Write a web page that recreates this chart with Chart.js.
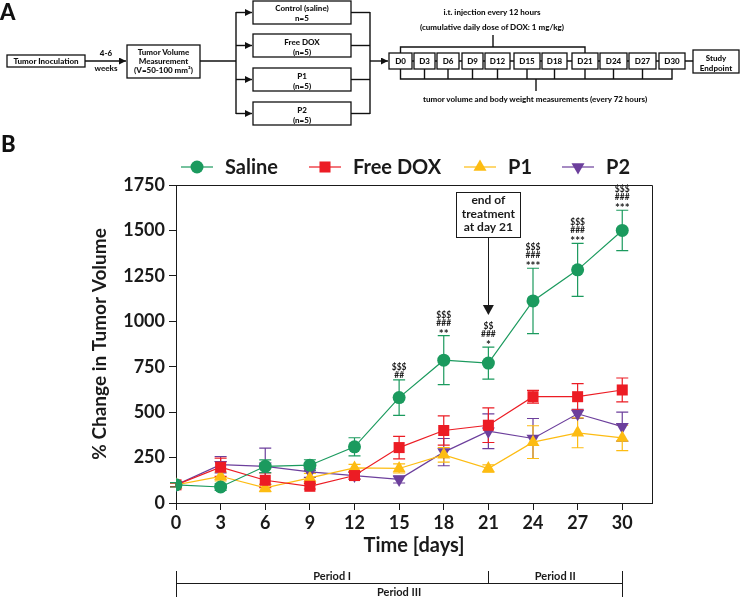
<!DOCTYPE html>
<html>
<head>
<meta charset="utf-8">
<script src="https://cdn.jsdelivr.net/npm/chart.js@4.4.1/dist/chart.umd.min.js"></script>
<style>
  html, body { margin: 0; padding: 0; background: #fff; }
  #wrap { position: relative; width: 740px; height: 597px; overflow: hidden; }
  #chart, #scheme { position: absolute; left: 0; top: 0; }
  #scheme { pointer-events: none; }
  #scheme text { font-family: Lato, "Open Sans", sans-serif; font-weight: 900; fill: #111; }
</style>
</head>
<body>
<div id="wrap">
  <canvas id="chart" width="740" height="597"></canvas>
  <svg id="scheme" width="740" height="597" viewBox="0 0 740 597">
    <defs>
      <marker id="arr" viewBox="0 0 6 6" refX="6" refY="3" markerWidth="5" markerHeight="5" orient="auto">
        <path d="M0,0 L6,3 L0,6 z" fill="#111"/>
      </marker>
    </defs>
    <g stroke="#111" stroke-width="1.4" fill="none">
      <!-- inoculation -> measurement -->
      <line x1="85" y1="61" x2="126" y2="61" marker-end="url(#arr)"/>
      <line x1="200" y1="61" x2="236" y2="61"/>
      <line x1="236" y1="12" x2="236" y2="114"/>
      <line x1="236" y1="12.5" x2="252" y2="12.5" marker-end="url(#arr)"/>
      <line x1="236" y1="45.5" x2="252" y2="45.5" marker-end="url(#arr)"/>
      <line x1="236" y1="79.5" x2="252" y2="79.5" marker-end="url(#arr)"/>
      <line x1="236" y1="113.5" x2="252" y2="113.5" marker-end="url(#arr)"/>
      <line x1="351" y1="12.5" x2="370" y2="12.5"/>
      <line x1="351" y1="45.5" x2="370" y2="45.5"/>
      <line x1="351" y1="79.5" x2="370" y2="79.5"/>
      <line x1="351" y1="113.5" x2="370" y2="113.5"/>
      <line x1="370" y1="12" x2="370" y2="114"/>
      <line x1="370" y1="61" x2="388" y2="61" marker-end="url(#arr)"/>
      <!-- day chain -->
      <line x1="412" y1="61" x2="693" y2="61"/>
      <!-- injection bracket -->
      <polyline points="400.5,53 400.5,47 585,47 585,53"/>
      <line x1="493" y1="35" x2="493" y2="47"/>
      <!-- measurement bracket -->
      <polyline points="400.5,69 400.5,79 672,79 672,69"/>
      <line x1="424.5" y1="69" x2="424.5" y2="79"/>
      <line x1="448" y1="69" x2="448" y2="79"/>
      <line x1="472.5" y1="69" x2="472.5" y2="79"/>
      <line x1="497.5" y1="69" x2="497.5" y2="79"/>
      <line x1="527" y1="69" x2="527" y2="79"/>
      <line x1="554.5" y1="69" x2="554.5" y2="79"/>
      <line x1="585" y1="69" x2="585" y2="79"/>
      <line x1="613.5" y1="69" x2="613.5" y2="79"/>
      <line x1="642.5" y1="69" x2="642.5" y2="79"/>
      <line x1="536" y1="79" x2="536" y2="91"/>
    </g>
    <g stroke="#111" stroke-width="1.3" fill="#fff">
      <rect x="7" y="55" width="78" height="12"/>
      <rect x="127" y="45" width="73" height="33"/>
      <rect x="253" y="1" width="98" height="23"/>
      <rect x="253" y="34" width="98" height="23"/>
      <rect x="253" y="68" width="98" height="23"/>
      <rect x="253" y="102" width="98" height="23"/>
      <rect x="389" y="53" width="23" height="16"/>
      <rect x="414" y="53" width="21" height="16"/>
      <rect x="437" y="53" width="22" height="16"/>
      <rect x="462" y="53" width="21" height="16"/>
      <rect x="485" y="53" width="25" height="16"/>
      <rect x="514" y="53" width="26" height="16"/>
      <rect x="542" y="53" width="25" height="16"/>
      <rect x="572" y="53" width="26" height="16"/>
      <rect x="600" y="53" width="27" height="16"/>
      <rect x="629" y="53" width="27" height="16"/>
      <rect x="659" y="53" width="26" height="16"/>
      <rect x="693" y="50" width="46" height="23"/>
    </g>
    <g font-size="8" text-anchor="middle">
      <text x="46" y="64">Tumor Inoculation</text>
      <text x="106" y="56">4-6</text>
      <text x="106" y="71">weeks</text>
      <text x="163.5" y="55">Tumor Volume</text>
      <text x="163.5" y="64">Measurement</text>
      <text x="163.5" y="73">(V=50-100 mm³)</text>
      <text x="302" y="11">Control (saline)</text>
      <text x="302" y="20.5">n=5</text>
      <text x="302" y="45">Free DOX</text>
      <text x="302" y="54.5">(n=5)</text>
      <text x="302" y="79">P1</text>
      <text x="302" y="88.5">(n=5)</text>
      <text x="302" y="113">P2</text>
      <text x="302" y="122.5">(n=5)</text>
      <text x="400.5" y="64">D0</text>
      <text x="424.5" y="64">D3</text>
      <text x="448" y="64">D6</text>
      <text x="472.5" y="64">D9</text>
      <text x="497.5" y="64">D12</text>
      <text x="527" y="64">D15</text>
      <text x="554.5" y="64">D18</text>
      <text x="585" y="64">D21</text>
      <text x="613.5" y="64">D24</text>
      <text x="642.5" y="64">D27</text>
      <text x="672" y="64">D30</text>
      <text x="716" y="61">Study</text>
      <text x="716" y="70.5">Endpoint</text>
      <text x="492" y="14.5">i.t. injection every 12 hours</text>
      <text x="492" y="29.5">(cumulative daily dose of DOX: 1 mg/kg)</text>
      <text x="535" y="102">tumor volume and body weight measurements (every 72 hours)</text>
    </g>
    <text x="0" y="20" font-size="22">A</text>
    <text x="1" y="152" font-size="22">B</text>
  </svg>
</div>
<script>
// data
const days = [0, 3, 6, 9, 12, 15, 18, 21, 24, 27, 30];
const salineMean = [100, 88, 202, 208, 309, 580, 786, 770, 1112, 1283, 1500];
const salineErr  = [12, 18, 35, 30, 50, 98, 135, 88, 180, 146, 111];
const doxMean = [100, 197, 125, 92, 151, 305, 399, 428, 585, 585, 622];
const doxErr  = [10, 50, 40, 15, 20, 62, 80, 95, 35, 72, 66];
const p1Mean = [100, 147, 83, 138, 193, 190, 265, 190, 335, 386, 358];
const p1Err  = [10, 25, 20, 25, 20, 25, 40, 20, 90, 82, 70];
const p2Mean = [100, 211, 202, 171, 151, 130, 280, 395, 355, 491, 420];
const p2Err  = [10, 45, 100, 30, 20, 20, 75, 96, 110, 25, 80];

const dayTicks = [0, 3, 6, 9, 12, 15, 18, 21, 24, 27, 30];
const volumeTicks = [0, 250, 500, 750, 1000, 1250, 1500, 1750];

// significance marks over saline
const sigDays = [15, 18, 21, 24, 27, 30];
const sigMarks = [
  ["$$$", "##"],
  ["$$$", "###", "**"],
  ["$$", "###", "*"],
  ["$$$", "###", "***"],
  ["$$$", "###", "***"],
  ["$$$", "###", "***"]
];

const treatmentEnd = 21;
const arrowTipValue = 1035;
const periods = [
  { label: "Period I", from: 0, to: 21, row: 0 },
  { label: "Period II", from: 21, to: 30, row: 0 },
  { label: "Period III", from: 0, to: 30, row: 1 }
];

const FONT = 'Lato, "Open Sans", sans-serif';
const INK = "#1a1a1a";

function series(label, color, style, rotation, radius, means, errs) {
  return {
    label: label,
    data: days.map((d, i) => ({ x: d, y: means[i] })),
    errors: errs,
    borderColor: color,
    backgroundColor: color,
    borderWidth: 1.2,
    pointStyle: style,
    pointRotation: rotation,
    pointRadius: radius,
    pointHoverRadius: radius,
    pointBorderWidth: 0,
    tension: 0
  };
}

const datasets = [
  series("Saline", "#1b9a5e", "circle", 0, 6.5, salineMean, salineErr),
  series("Free DOX", "#ec1c24", "rect", 0, 7.8, doxMean, doxErr),
  series("P1", "#fdbc12", "triangle", 0, 7.5, p1Mean, p1Err),
  series("P2", "#6c3f9c", "triangle", 180, 7.5, p2Mean, p2Err)
];

// error bars under the markers
const errorBars = {
  id: "errorBars",
  beforeDatasetsDraw(chart) {
    const { ctx, scales: { x, y } } = chart;
    ctx.save();
    for (let k = chart.data.datasets.length - 1; k >= 0; k--) {
      const ds = chart.data.datasets[k];
      ctx.strokeStyle = ds.borderColor;
      ctx.lineWidth = 1.2;
      ds.data.forEach((p, i) => {
        const e = ds.errors[i];
        const px = x.getPixelForValue(p.x);
        const top = y.getPixelForValue(p.y + e);
        const bot = y.getPixelForValue(p.y - e);
        ctx.beginPath();
        ctx.moveTo(px, top); ctx.lineTo(px, bot);
        ctx.moveTo(px - 6, top); ctx.lineTo(px + 6, top);
        ctx.moveTo(px - 6, bot); ctx.lineTo(px + 6, bot);
        ctx.stroke();
      });
    }
    ctx.restore();
  }
};

// $$$ / ### / *** over the saline bars
const sigLabels = {
  id: "sigLabels",
  afterDatasetsDraw(chart) {
    const { ctx, scales: { x, y } } = chart;
    ctx.save();
    ctx.fillStyle = INK;
    ctx.textAlign = "center";
    ctx.textBaseline = "alphabetic";
    sigDays.forEach((d, j) => {
      const i = days.indexOf(d);
      const px = x.getPixelForValue(d);
      const cap = y.getPixelForValue(salineMean[i] + salineErr[i]);
      const lines = sigMarks[j];
      lines.forEach((s, n) => {
        const fromBottom = lines.length - 1 - n;
        const isStar = s.indexOf("*") >= 0;
        ctx.font = (isStar ? "bold 11.5px " : "bold 8.5px ") + FONT;
        ctx.fillText(s, px, cap + (isStar ? 2 : -2) - fromBottom * 8);
      });
    });
    ctx.restore();
  }
};

// box around plot, legend, treatment note and period bars
const extras = {
  id: "extras",
  afterDraw(chart) {
    const { ctx, chartArea: a, scales: { x, y } } = chart;
    ctx.save();

    // top + right frame
    ctx.strokeStyle = INK;
    ctx.lineWidth = 1;
    ctx.beginPath();
    ctx.moveTo(a.left, a.top + 0.5); ctx.lineTo(a.right + 0.5, a.top + 0.5);
    ctx.lineTo(a.right + 0.5, a.bottom);
    ctx.stroke();

    // legend
    const legendX = [197, 325, 480, 578];
    const legendY = 167;
    chart.data.datasets.forEach((ds, k) => {
      const cx = legendX[k];
      ctx.strokeStyle = ds.borderColor;
      ctx.fillStyle = ds.backgroundColor;
      ctx.lineWidth = 1.2;
      ctx.beginPath();
      ctx.moveTo(cx - 16, legendY); ctx.lineTo(cx + 16, legendY);
      ctx.stroke();
      Chart.helpers.drawPoint(ctx, {
        pointStyle: ds.pointStyle, rotation: ds.pointRotation,
        radius: ds.pointRadius, borderWidth: 0
      }, cx, legendY);
      ctx.fillStyle = INK;
      ctx.font = "bold 20px " + FONT;
      ctx.textAlign = "left";
      ctx.textBaseline = "middle";
      ctx.fillText(ds.label, cx + 28, legendY + 1);
    });

    // end of treatment note
    const tx = x.getPixelForValue(treatmentEnd);
    const boxTop = a.top + 7, boxW = 64, boxH = 45;
    ctx.strokeStyle = INK;
    ctx.lineWidth = 1;
    ctx.fillStyle = "#fff";
    ctx.fillRect(tx - boxW / 2, boxTop, boxW, boxH);
    ctx.strokeRect(Math.round(tx - boxW / 2) + 0.5, boxTop + 0.5, boxW, boxH);
    ctx.fillStyle = INK;
    ctx.font = "bold 12px " + FONT;
    ctx.textAlign = "center";
    ctx.textBaseline = "middle";
    ["end of", "treatment", "at day 21"].forEach((s, n) => {
      ctx.fillText(s, tx, boxTop + 8.5 + n * 13.5);
    });
    const tip = y.getPixelForValue(arrowTipValue);
    ctx.beginPath();
    ctx.moveTo(Math.round(tx) + 0.5, boxTop + boxH);
    ctx.lineTo(Math.round(tx) + 0.5, tip - 8);
    ctx.stroke();
    ctx.beginPath();
    ctx.moveTo(tx - 5.5, tip - 10); ctx.lineTo(tx + 5.5, tip - 10); ctx.lineTo(tx, tip);
    ctx.closePath();
    ctx.fill();

    // period bars
    const rowY = a.bottom + 80;
    const barTop = a.bottom + 68;
    ctx.strokeStyle = INK;
    ctx.lineWidth = 1;
    ctx.beginPath();
    const x0 = Math.round(x.getPixelForValue(0)) + 0.5;
    const x21 = Math.round(x.getPixelForValue(21)) + 0.5;
    const x30 = Math.round(x.getPixelForValue(30)) + 0.5;
    ctx.moveTo(x0, barTop); ctx.lineTo(x0, chart.height);
    ctx.moveTo(x30, barTop); ctx.lineTo(x30, chart.height);
    ctx.moveTo(x21, barTop); ctx.lineTo(x21, rowY);
    ctx.moveTo(x0, rowY + 0.5); ctx.lineTo(x30, rowY + 0.5);
    ctx.stroke();
    ctx.font = "bold 11px " + FONT;
    ctx.textAlign = "center";
    ctx.textBaseline = "alphabetic";
    periods.forEach((p) => {
      const mid = (x.getPixelForValue(p.from) + x.getPixelForValue(p.to)) / 2;
      ctx.fillText(p.label, mid, p.row === 0 ? a.bottom + 77 : a.bottom + 93);
    });

    ctx.restore();
  }
};

new Chart(document.getElementById("chart"), {
  type: "line",
  data: { datasets: datasets },
  options: {
    responsive: false,
    devicePixelRatio: 1,
    animation: false,
    layout: { padding: { top: 185, right: 88, bottom: 30, left: 0 } },
    plugins: { legend: { display: false }, tooltip: { enabled: false } },
    scales: {
      x: {
        type: "linear",
        min: 0,
        max: 32,
        afterBuildTicks: (s) => { s.ticks = dayTicks.map((v) => ({ value: v })); },
        afterFit: (s) => { s.height = 64; },
        ticks: {
          color: INK, padding: 2, maxRotation: 0,
          font: { family: FONT, size: 18, weight: "bold" },
          callback: (v) => String(v)
        },
        grid: { drawOnChartArea: false, tickLength: 7, color: INK, lineWidth: 1 },
        border: { color: INK, width: 1 },
        title: {
          display: true, text: "Time [days]", color: INK,
          font: { family: FONT, size: 20, weight: "bold" },
          padding: { top: 0, bottom: 9 }
        }
      },
      y: {
        min: 0,
        max: 1750,
        afterBuildTicks: (s) => { s.ticks = volumeTicks.map((v) => ({ value: v })); },
        afterFit: (s) => { s.width = 176; },
        ticks: {
          color: INK, padding: 4,
          font: { family: FONT, size: 18, weight: "bold" },
          callback: (v) => String(v)
        },
        grid: { drawOnChartArea: false, tickLength: 7, color: INK, lineWidth: 1 },
        border: { color: INK, width: 1 },
        title: {
          display: true, text: "% Change in Tumor Volume", color: INK,
          font: { family: FONT, size: 19, weight: "bold" },
          padding: { top: 88, bottom: 0 }
        }
      }
    }
  },
  plugins: [errorBars, sigLabels, extras]
});
</script>
</body>
</html>
